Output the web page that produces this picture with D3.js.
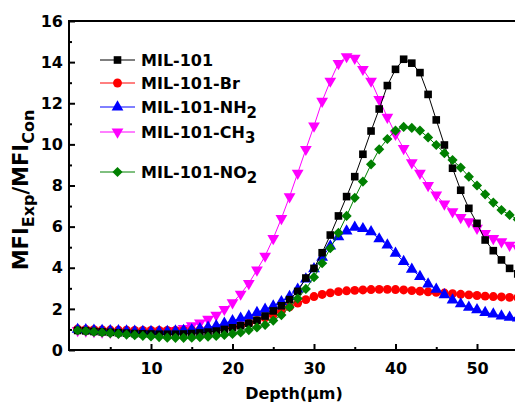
<!DOCTYPE html>
<html>
<head>
<meta charset="utf-8">
<script src="https://cdn.jsdelivr.net/npm/d3@7"></script>
<style>
body { margin: 0; background: #fff; }
text { font-family: "DejaVu Sans", sans-serif; font-weight: bold; fill: #000; }
</style>
</head>
<body>
<svg id="chart" width="515" height="403"></svg>
<script>
const depth = [1,2,3,4,5,6,7,8,9,10,11,12,13,14,15,16,17,18,19,20,21,22,23,24,25,26,27,28,29,30,
    31,32,33,34,35,36,37,38,39,40,41,42,43,44,45,46,47,48,49,50,51,52,53,54,55];

const mil101 = [0.95,0.93,0.9,0.88,0.86,0.84,0.82,0.8,0.79,0.78,0.77,0.77,0.77,0.78,0.8,0.83,0.87,0.92,1.0,1.08,
    1.18,1.3,1.45,1.65,1.9,2.15,2.45,2.85,3.5,3.97,4.73,5.59,6.52,7.46,8.43,9.52,10.65,11.72,12.86,13.65,
    14.14,13.95,13.49,12.43,11.19,9.97,8.84,7.77,6.89,6.16,5.35,4.83,4.38,3.97,3.7];

const mil101Br = [1.02,1.0,0.99,0.98,0.97,0.96,0.96,0.95,0.95,0.95,0.95,0.95,0.95,0.95,0.96,0.98,1.0,1.03,1.07,1.12,
    1.2,1.3,1.42,1.56,1.72,1.9,2.1,2.28,2.45,2.6,2.7,2.78,2.84,2.88,2.9,2.92,2.94,2.95,2.95,2.94,
    2.92,2.89,2.86,2.83,2.8,2.77,2.74,2.71,2.68,2.65,2.62,2.6,2.58,2.56,2.55];

const mil101NH2 = [1.0,0.98,0.96,0.95,0.94,0.93,0.92,0.91,0.9,0.9,0.9,0.9,0.92,0.95,0.98,1.03,1.1,1.18,1.3,1.42,
    1.54,1.65,1.82,1.98,2.14,2.35,2.6,2.95,3.45,3.95,4.5,5.05,5.5,5.78,5.97,5.9,5.75,5.4,5.1,4.7,
    4.3,3.92,3.57,3.21,2.95,2.68,2.43,2.24,2.08,1.95,1.82,1.75,1.65,1.59,1.55];

const mil101CH3 = [0.95,0.93,0.9,0.88,0.86,0.85,0.84,0.84,0.84,0.85,0.87,0.9,0.95,1.05,1.18,1.32,1.5,1.7,1.98,2.3,
    2.72,3.24,3.89,4.57,5.43,6.4,7.46,8.6,9.76,10.9,12.1,13.08,13.94,14.27,14.19,13.65,13.08,12.19,11.32,10.5,
    9.8,9.11,8.6,8.0,7.54,7.1,6.73,6.45,6.24,5.92,5.67,5.43,5.27,5.1,4.95];

const mil101NO2 = [0.95,0.92,0.88,0.85,0.82,0.78,0.75,0.72,0.69,0.66,0.63,0.6,0.59,0.59,0.6,0.62,0.65,0.68,0.73,0.78,
    0.85,0.97,1.1,1.22,1.43,1.7,2.08,2.5,2.97,3.54,4.22,4.95,5.7,6.52,7.4,8.19,9.03,9.76,10.26,10.67,
    10.85,10.8,10.67,10.34,9.97,9.57,9.24,8.87,8.43,8.0,7.57,7.17,6.81,6.57,6.35];

const xTicks = [10, 20, 30, 40, 50];
const yTicks = [0, 2, 4, 6, 8, 10, 12, 14, 16];

const series = [
    {name: "MIL-101", sub: "", values: mil101, color: "#000000", symbol: d3.symbolSquare, size: 58, rot: 0, order: 3},
    {name: "MIL-101-Br", sub: "", values: mil101Br, color: "#ff0000", symbol: d3.symbolCircle, size: 62, rot: 0, order: 1},
    {name: "MIL-101-NH", sub: "2", values: mil101NH2, color: "#0000ff", symbol: d3.symbolTriangle, size: 60, rot: 0, order: 2},
    {name: "MIL-101-CH", sub: "3", values: mil101CH3, color: "#ff00ff", symbol: d3.symbolTriangle, size: 60, rot: 180, order: 0},
    {name: "MIL-101-NO", sub: "2", values: mil101NO2, color: "#008000", symbol: d3.symbolDiamond2, size: 66, rot: 0, order: 4}
];
const legendY = [60, 83, 107, 132, 172];

const svg = d3.select("#chart");

const x = d3.scaleLinear().domain([0, 56]).range([69.5, 69.5 + 56 * 8.15]);
const y = d3.scaleLinear().domain([0, 16]).range([350, 21]);

svg.append("defs").append("clipPath").attr("id", "plot")
    .append("rect").attr("x", 69).attr("y", 21).attr("width", 460).attr("height", 329);

const plot = svg.append("g").attr("clip-path", "url(#plot)");

const line = d3.line()
    .x((d, i) => x(depth[i]))
    .y(d => y(d));

series.slice().sort((a, b) => a.order - b.order).forEach(s => {
    const g = plot.append("g");
    g.append("path")
        .attr("d", line(s.values))
        .attr("fill", "none")
        .attr("stroke", s.color)
        .attr("stroke-width", 1);
    g.selectAll("path.pt").data(s.values).enter().append("path")
        .attr("class", "pt")
        .attr("d", d3.symbol().type(s.symbol).size(s.size))
        .attr("transform", (d, i) => `translate(${x(depth[i])},${y(d)}) rotate(${s.rot})`)
        .attr("fill", s.color);
});

// axes
const xAxis = d3.axisBottom(x).tickValues(xTicks).tickSize(-6).tickFormat(d3.format("d"));
const gx = svg.append("g").attr("transform", "translate(0,350)").call(xAxis);
gx.select(".domain").remove();
gx.selectAll(".tick line").attr("stroke-width", 2);
gx.selectAll(".tick text").attr("y", 13).attr("dy", "0.71em").style("font-size", "16px")
    .style("font-family", "DejaVu Sans").style("font-weight", "bold");

const xMinor = d3.axisBottom(x).tickValues([5, 15, 25, 35, 45, 55]).tickSize(-3).tickFormat("");
const gxm = svg.append("g").attr("transform", "translate(0,350)").call(xMinor);
gxm.select(".domain").remove();
gxm.selectAll(".tick line").attr("stroke-width", 2);

const yAxis = d3.axisLeft(y).tickValues(yTicks).tickSize(-6).tickFormat(d3.format("d"));
const gy = svg.append("g").attr("transform", "translate(69,0)").call(yAxis);
gy.select(".domain").remove();
gy.selectAll(".tick line").attr("stroke-width", 2);
gy.selectAll(".tick text").attr("x", -6).style("font-size", "16px")
    .style("font-family", "DejaVu Sans").style("font-weight", "bold");

const yMinor = d3.axisLeft(y).tickValues([1, 3, 5, 7, 9, 11, 13, 15]).tickSize(-3).tickFormat("");
const gym = svg.append("g").attr("transform", "translate(69,0)").call(yMinor);
gym.select(".domain").remove();
gym.selectAll(".tick line").attr("stroke-width", 2);

// frame
svg.append("line").attr("x1", 69).attr("x2", 69).attr("y1", 20).attr("y2", 351)
    .attr("stroke", "#000").attr("stroke-width", 2);
svg.append("line").attr("x1", 68).attr("x2", 515).attr("y1", 350).attr("y2", 350)
    .attr("stroke", "#000").attr("stroke-width", 2);
svg.append("line").attr("x1", 68).attr("x2", 515).attr("y1", 21).attr("y2", 21)
    .attr("stroke", "#000").attr("stroke-width", 2);

// axis titles
svg.append("text").attr("x", 294).attr("y", 399).attr("text-anchor", "middle")
    .style("font-size", "16px").text("Depth(μm)");

const yt = svg.append("text").attr("transform", "translate(28,190) rotate(-90)")
    .attr("text-anchor", "middle").style("font-size", "21px");
yt.append("tspan").text("MFI");
yt.append("tspan").attr("dy", 6).style("font-size", "16px").text("Exp");
yt.append("tspan").attr("dy", -6).text("/MFI");
yt.append("tspan").attr("dy", 6).style("font-size", "16px").text("Con");

// legend
series.forEach((s, i) => {
    const ly = legendY[i];
    svg.append("line").attr("x1", 100).attr("x2", 135).attr("y1", ly).attr("y2", ly)
        .attr("stroke", s.color).attr("stroke-width", 1);
    svg.append("path")
        .attr("d", d3.symbol().type(s.symbol).size(s.size)())
        .attr("transform", `translate(117.5,${ly}) rotate(${s.rot})`)
        .attr("fill", s.color);
    const t = svg.append("text").attr("x", 141).attr("y", ly + 6).style("font-size", "16px");
    t.append("tspan").text(s.name);
    if (s.sub) t.append("tspan").attr("dy", 5).style("font-size", "15px").text(s.sub);
});
</script>
</body>
</html>
